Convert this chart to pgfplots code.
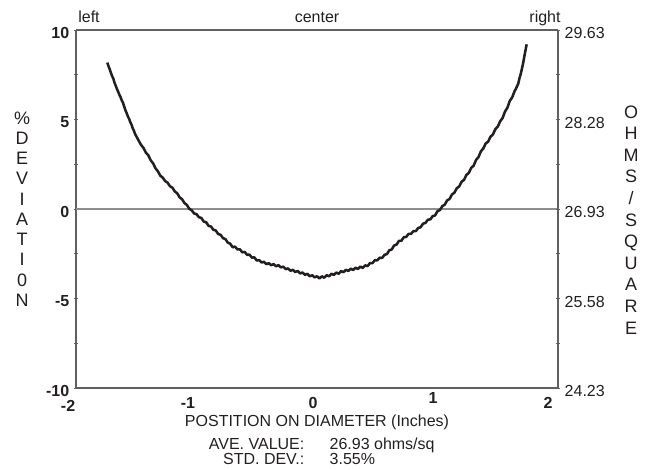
\documentclass[border=0pt]{standalone}
\usepackage{pgfplots}
\pgfplotsset{compat=1.18}
\usepackage{fontspec}
\setmainfont{Liberation Sans}
\definecolor{txt}{HTML}{231F20}
\definecolor{axc}{HTML}{606062}
\definecolor{zl}{HTML}{8E8E90}
\pgfplotstableread{
x y
-1.74 8.18
-1.73 7.98
-1.72 7.80
-1.71 7.60
-1.70 7.42
-1.69 7.28
-1.68 7.05
-1.67 6.88
-1.66 6.70
-1.65 6.55
-1.64 6.38
-1.63 6.25
-1.62 6.06
-1.61 5.94
-1.60 5.72
-1.59 5.52
-1.58 5.36
-1.57 5.18
-1.56 5.05
-1.55 4.86
-1.54 4.72
-1.53 4.52
-1.52 4.38
-1.51 4.20
-1.50 4.07
-1.48 3.82
-1.46 3.58
-1.44 3.41
-1.42 3.15
-1.40 3.00
-1.38 2.72
-1.36 2.55
-1.34 2.27
-1.32 2.10
-1.30 1.86
-1.28 1.75
-1.26 1.56
-1.24 1.47
-1.22 1.27
-1.20 1.19
-1.18 0.98
-1.16 0.88
-1.14 0.65
-1.12 0.55
-1.10 0.33
-1.08 0.23
-1.06 0.01
-1.04 -0.07
-1.02 -0.25
-1.00 -0.29
-0.98 -0.46
-0.96 -0.50
-0.94 -0.70
-0.92 -0.74
-0.90 -0.94
-0.88 -0.98
-0.86 -1.16
-0.84 -1.20
-0.82 -1.40
-0.80 -1.44
-0.78 -1.63
-0.76 -1.68
-0.74 -1.88
-0.72 -1.94
-0.70 -2.14
-0.68 -2.10
-0.66 -2.26
-0.64 -2.25
-0.62 -2.42
-0.60 -2.40
-0.58 -2.56
-0.56 -2.55
-0.54 -2.72
-0.52 -2.70
-0.50 -2.88
-0.48 -2.85
-0.46 -2.99
-0.44 -2.95
-0.42 -3.08
-0.40 -3.03
-0.38 -3.14
-0.36 -3.08
-0.34 -3.20
-0.32 -3.14
-0.30 -3.26
-0.28 -3.22
-0.26 -3.36
-0.24 -3.32
-0.22 -3.45
-0.20 -3.40
-0.18 -3.52
-0.16 -3.46
-0.14 -3.60
-0.12 -3.55
-0.10 -3.68
-0.08 -3.62
-0.06 -3.76
-0.04 -3.70
-0.02 -3.82
0.00 -3.76
0.02 -3.88
0.04 -3.76
0.06 -3.84
0.08 -3.70
0.10 -3.76
0.12 -3.62
0.14 -3.68
0.16 -3.55
0.18 -3.62
0.20 -3.47
0.22 -3.53
0.24 -3.40
0.26 -3.46
0.28 -3.33
0.30 -3.41
0.32 -3.28
0.34 -3.35
0.36 -3.22
0.38 -3.29
0.40 -3.15
0.42 -3.19
0.44 -3.02
0.46 -3.03
0.48 -2.86
0.50 -2.87
0.52 -2.72
0.54 -2.74
0.56 -2.56
0.58 -2.52
0.60 -2.31
0.62 -2.26
0.64 -2.04
0.66 -1.99
0.68 -1.78
0.70 -1.78
0.72 -1.58
0.74 -1.56
0.76 -1.39
0.78 -1.39
0.80 -1.24
0.82 -1.24
0.84 -1.06
0.86 -1.02
0.88 -0.82
0.90 -0.78
0.92 -0.60
0.94 -0.58
0.96 -0.40
0.98 -0.36
1.00 -0.12
1.02 -0.06
1.04 0.16
1.06 0.24
1.08 0.48
1.10 0.56
1.12 0.81
1.14 0.91
1.16 1.16
1.18 1.26
1.20 1.52
1.22 1.63
1.24 1.90
1.26 2.02
1.28 2.30
1.30 2.42
1.32 2.74
1.34 2.90
1.36 3.22
1.38 3.38
1.40 3.66
1.42 3.76
1.44 4.04
1.46 4.16
1.48 4.46
1.50 4.60
1.52 4.90
1.54 5.08
1.56 5.44
1.58 5.66
1.60 6.04
1.62 6.24
1.64 6.59
1.65 6.70
1.66 6.86
1.67 7.00
1.68 7.30
1.69 7.52
1.70 7.82
1.71 8.12
1.72 8.50
1.73 8.86
1.74 9.20
}\datatable
\begin{document}
\begin{tikzpicture}
\begin{axis}[
  scale only axis, width=361.5pt, height=268.5pt,
  xmin=-2, xmax=2, ymin=-10, ymax=10,
  xtick=\empty,
  ytick={-10,-5,0,5,10},
  minor ytick={-7.5,-2.5,2.5,7.5},
  yticklabel style={font=\fontsize{12}{14}\selectfont\bfseries, text=txt, yshift=-2pt},
  /pgf/number format/assume math mode=true,
  axis line style={draw=axc, line width=0.9pt},
  major tick style={draw=axc, line width=0.6pt},
  minor tick style={draw=axc, line width=0.6pt},
  major tick length=3pt, minor tick length=3pt,
  tick align=center,
  axis y line*=left, axis x line*=bottom,
  clip=false,
]
\addplot[zl, line width=1.1pt, forget plot] coordinates {(-2,0) (2,0)};
\addplot[txt, line width=1.9pt, line join=round] table[x=x,y=y]{\datatable};
% top labels
\node[anchor=base, text=txt, font=\fontsize{12}{14}\selectfont] at (axis cs:-1.892,10) [yshift=5.5pt] {left};
\node[anchor=base, text=txt, font=\fontsize{12}{14}\selectfont] at (axis cs:0.0,10) [yshift=5.5pt] {center};
\node[anchor=base, text=txt, font=\fontsize{12}{14}\selectfont] at (axis cs:1.892,10) [yshift=5.5pt] {right};
% x tick labels
\node[anchor=base, text=txt, font=\fontsize{12}{14}\selectfont\bfseries] at (axis cs:-2.066,-11.30) {-2};
\node[anchor=base, text=txt, font=\fontsize{12}{14}\selectfont\bfseries] at (axis cs:-1.071,-11.12) {-1};
\node[anchor=base, text=txt, font=\fontsize{12}{14}\selectfont\bfseries] at (axis cs:-0.033,-11.17) {0};
\node[anchor=base, text=txt, font=\fontsize{12}{14}\selectfont\bfseries] at (axis cs:0.963,-10.89) {1};
\node[anchor=base, text=txt, font=\fontsize{12}{14}\selectfont\bfseries] at (axis cs:1.917,-11.17) {2};
% bottom texts
\node[anchor=base, text=txt, font=\fontsize{12}{14}\selectfont] at (axis cs:0.0,-12.16) {POSTITION ON DIAMETER (Inches)};
\node[anchor=base east, text=txt, font=\fontsize{12}{14}\selectfont] at (axis cs:-0.066,-13.41) {AVE. VALUE:};
\node[anchor=base west, text=txt, font=\fontsize{12}{14}\selectfont] at (axis cs:0.066,-13.41) {26.93 ohms/sq};
\node[anchor=base east, text=txt, font=\fontsize{12}{14}\selectfont] at (axis cs:-0.066,-14.30) {STD. DEV.:};
\node[anchor=base west, text=txt, font=\fontsize{12}{14}\selectfont] at (axis cs:0.066,-14.30) {3.55\%};
% side labels
\node[align=center, text=txt, font=\fontsize{13.5}{15.2}\selectfont] at (axis cs:-2.448,0) {\%\\D\\E\\V\\I\\A\\T\\I\\0\\N};
\node[align=center, text=txt, font=\fontsize{13.5}{16.2}\selectfont] at (axis cs:2.606,-0.61) {O\\H\\M\\S\\/\\S\\Q\\U\\A\\R\\E};
\end{axis}
\begin{axis}[
  scale only axis, width=361.5pt, height=268.5pt,
  xmin=-2, xmax=2, ymin=-10, ymax=10,
  xtick=\empty,
  ytick={-10,-5,0,5,10},
  yticklabels={24.23,25.58,26.93,28.28,29.63},
  minor ytick={-7.5,-2.5,2.5,7.5},
  yticklabel style={font=\fontsize{12}{14}\selectfont, text=txt, yshift=-2.5pt},
  axis line style={draw=axc, line width=0.9pt},
  major tick style={draw=axc, line width=0.6pt},
  minor tick style={draw=axc, line width=0.6pt},
  major tick length=3pt, minor tick length=3pt,
  tick align=center,
  axis y line*=right, axis x line*=top,
]
\end{axis}
\pgfresetboundingbox
\path (current axis.south west) ++(-57pt,-61.5pt) rectangle ++(490.5pt,352.5pt);
\end{tikzpicture}
\end{document}
